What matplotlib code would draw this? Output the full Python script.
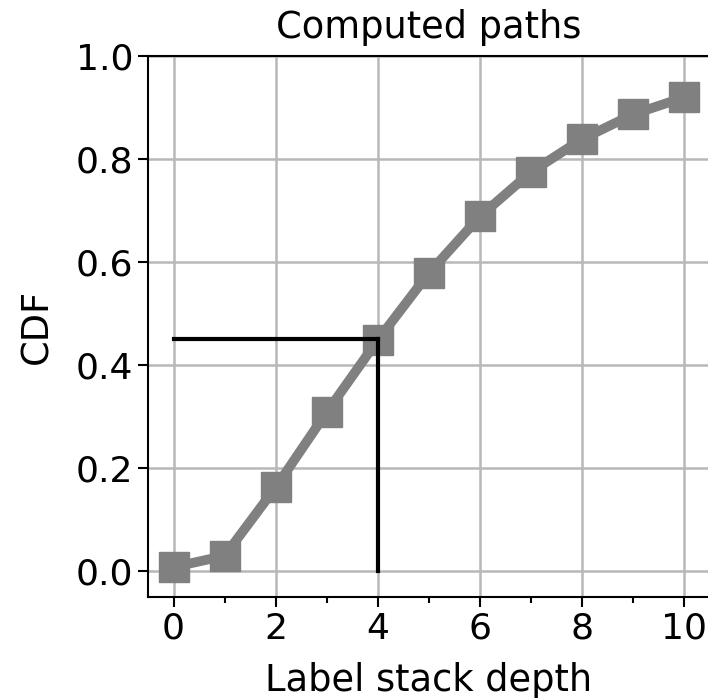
import matplotlib
matplotlib.use("Agg")
import matplotlib.pyplot as plt
from matplotlib.ticker import MultipleLocator

# label stack depth vs CDF
depth = [0, 1, 2, 3, 4, 5, 6, 7, 8, 9, 10]
cdf = [0.008, 0.03, 0.163, 0.309, 0.449, 0.579, 0.689, 0.775, 0.839, 0.887, 0.920]
mark_x = 4
mark_y = 0.45

fig = plt.figure(figsize=(7.08, 6.98), dpi=100)
ax = fig.add_axes([148 / 708, 1 - 597 / 698, 562 / 708, 541 / 698])

ax.plot(depth, cdf, color="gray", lw=7, marker="s", ms=21, zorder=3)
ax.plot([0, mark_x], [mark_y, mark_y], color="black", lw=3, zorder=4)
ax.plot([mark_x, mark_x], [0, mark_y], color="black", lw=3, zorder=4)

ax.set_xlim(-0.5, 10.5)
ax.set_ylim(-0.05, 1.0)
ax.set_xticks([0, 2, 4, 6, 8, 10])
ax.xaxis.set_minor_locator(MultipleLocator(1))
ax.set_yticks([0.0, 0.2, 0.4, 0.6, 0.8, 1.0])
ax.grid(True, which="major", color="#b8b8b8", lw=1.8)
ax.tick_params(labelsize=26, length=7, width=1.5)
ax.tick_params(which="minor", length=4, width=1.5)
for s in ax.spines.values():
    s.set_linewidth(1.5)

ax.set_title("Computed paths", fontsize=26.5, pad=13)
ax.set_xlabel("Label stack depth", fontsize=26.5, labelpad=12)
ax.set_ylabel("CDF", fontsize=26.5, labelpad=15)

fig.savefig("out.png", dpi=100)
